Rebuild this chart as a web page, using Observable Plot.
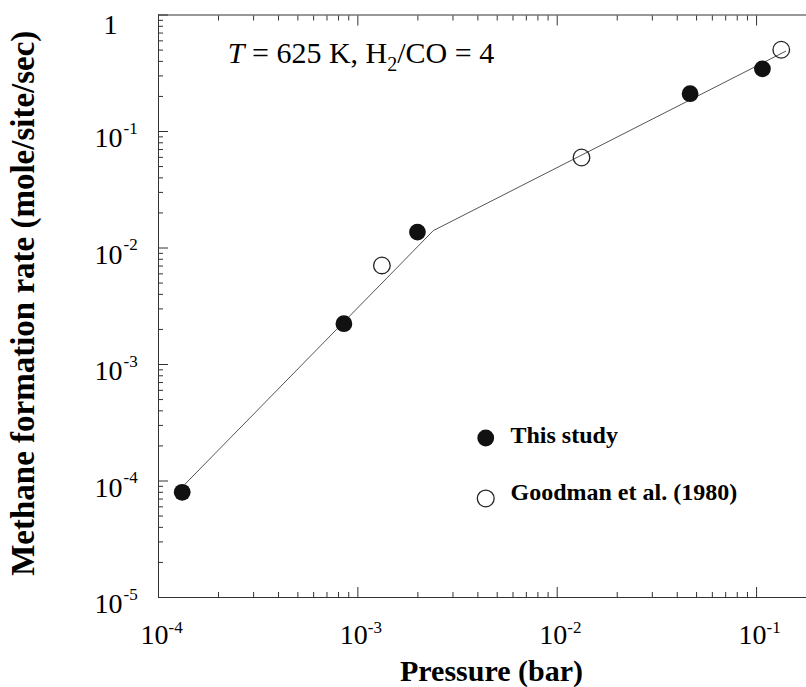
<!DOCTYPE html>
<html>
<head>
<meta charset="utf-8">
<script src="https://cdn.jsdelivr.net/npm/d3@7"></script>
<script src="https://cdn.jsdelivr.net/npm/@observablehq/plot@0.6"></script>
<style>
  html, body { margin: 0; padding: 0; background: #fff; }
  #chart { width: 806px; height: 687px; }
</style>
</head>
<body>
<div id="chart"></div>
<script>
// Methane formation rate versus pressure, T = 625 K, H2/CO = 4

// This study (filled circles)
const studyPressure = [1.315e-4, 8.51e-4, 1.99e-3, 0.0464, 0.107];
const studyRate     = [8.0e-5, 2.24e-3, 1.37e-2, 0.211, 0.345];

// Goodman et al. (1980) (open circles)
const goodmanPressure = [1.32e-3, 0.01324, 0.133];
const goodmanRate     = [7.08e-3, 0.0598, 0.503];

// Two-segment fit line through both data sets
const fitPressure = [1.364e-4, 2.39e-3, 0.140];
const fitRate     = [9.46e-5, 0.0141, 0.489];

// Axis ticks and labels
const xMajorTicks    = [1e-4, 1e-3, 1e-2, 1e-1];
const xTickExponents = ["-4", "-3", "-2", "-1"];
const yMajorTicks    = [1e-5, 1e-4, 1e-3, 1e-2, 1e-1, 1];
const yTickExponents = ["-5", "-4", "-3", "-2", "-1", ""];

const xLabel = "Pressure (bar)";
const yLabel = "Methane formation rate (mole/site/sec)";
const legendLabels = ["This study", "Goodman et al. (1980)"];

// ---- derived tables ----
const study   = studyPressure.map((p, i) => ({p, rate: studyRate[i]}));
const goodman = goodmanPressure.map((p, i) => ({p, rate: goodmanRate[i]}));
const fit     = fitPressure.map((p, i) => ({p, rate: fitRate[i]}));

const xMax = 0.178;
const minorTicks = (majors, max) =>
  majors.flatMap(d => d3.range(2, 10).map(k => k * d)).filter(v => v < max);
const xMinorTicks = minorTicks(xMajorTicks, xMax);
const yMinorTicks = minorTicks(yMajorTicks.slice(0, -1), 1);

const yTicks = yMajorTicks.map((v, i) => ({v, exp: yTickExponents[i]}));
const yPowerTicks = yTicks.filter(d => d.exp !== "");
const yUnitTicks  = yTicks.filter(d => d.exp === "");

// legend placement (data units, inside the plot)
const legendDotP = 4.38e-3, legendTextP = 5.83e-3;
const legendDotRate  = [2.34e-4, 7.08e-5];
const legendTextRate = [2.10e-4, 6.9e-5];
const legend = legendLabels.map((label, i) => ({
  label, filled: i === 0, dotRate: legendDotRate[i], textRate: legendTextRate[i]
}));

const serif = "'Liberation Serif', 'Times New Roman', Times, serif";
const axisColor = "#333";

const plot = Plot.plot({
  width: 806,
  height: 687,
  marginLeft: 158,
  marginRight: 0,
  marginTop: 14.5,
  marginBottom: 90,
  style: {fontFamily: serif, background: "#fff", color: axisColor},
  x: {type: "log", domain: [1e-4, xMax], label: null},
  y: {type: "log", domain: [1e-5, 1], label: null},
  marks: [
    // axis lines (left, bottom, top)
    Plot.ruleX([1e-4], {stroke: axisColor, strokeWidth: 1}),
    Plot.ruleY([1e-5, 1], {stroke: axisColor, strokeWidth: 1}),

    // inward ticks
    Plot.axisX(xMajorTicks, {anchor: "bottom", tickSize: -10, tickFormat: () => "", label: null}),
    Plot.axisX(xMinorTicks, {anchor: "bottom", tickSize: -5, tickFormat: () => "", label: null}),
    Plot.axisX(xMajorTicks, {anchor: "top", tickSize: -10, tickFormat: () => "", label: null}),
    Plot.axisX(xMinorTicks, {anchor: "top", tickSize: -5, tickFormat: () => "", label: null}),
    Plot.axisY(yMajorTicks, {anchor: "left", tickSize: -10, tickFormat: () => "", label: null}),
    Plot.axisY(yMinorTicks, {anchor: "left", tickSize: -5, tickFormat: () => "", label: null}),

    // x tick labels: 10 with superscript exponent
    Plot.text(xMajorTicks, {x: d => d, text: () => "10", frameAnchor: "bottom",
      textAnchor: "end", lineAnchor: "bottom", dx: 10, dy: 46, fontSize: 28, fill: "#000"}),
    Plot.text(xMajorTicks, {x: d => d, text: (d, i) => xTickExponents[i], frameAnchor: "bottom",
      textAnchor: "start", lineAnchor: "bottom", dx: 10, dy: 35, fontSize: 17, fill: "#000"}),

    // y tick labels
    Plot.text(yPowerTicks, {y: "v", text: () => "10", frameAnchor: "left",
      textAnchor: "end", lineAnchor: "bottom", dx: -36, dy: 15.7, fontSize: 28, fill: "#000"}),
    Plot.text(yPowerTicks, {y: "v", text: "exp", frameAnchor: "left",
      textAnchor: "start", lineAnchor: "bottom", dx: -35, dy: 2, fontSize: 17, fill: "#000"}),
    Plot.text(yUnitTicks, {y: "v", text: () => "1", frameAnchor: "left",
      textAnchor: "end", lineAnchor: "bottom", dx: -41, dy: 19, fontSize: 28, fill: "#000"}),

    // axis titles
    Plot.text([xLabel], {text: d => d, frameAnchor: "bottom", textAnchor: "middle", lineAnchor: "bottom",
      dx: 9, dy: 83, fontSize: 30, fontWeight: "bold", fill: "#000"}),
    Plot.text([yLabel], {text: d => d, frameAnchor: "left", textAnchor: "middle", rotate: -90,
      lineAnchor: "bottom", dx: -125, dy: -3, fontSize: 33, fontWeight: "bold", fill: "#000"}),

    // fit line
    Plot.line(fit, {x: "p", y: "rate", stroke: "#555", strokeWidth: 1}),

    // data
    Plot.dot(goodman, {x: "p", y: "rate", r: 8.3, fill: "none", stroke: "#222", strokeWidth: 1.3}),
    Plot.dot(study, {x: "p", y: "rate", r: 8.4, fill: "#111", stroke: "none"}),

    // legend
    Plot.dot(legend, {x: () => legendDotP, y: "dotRate", r: 8.4,
      fill: d => d.filled ? "#111" : "none", stroke: d => d.filled ? "none" : "#222", strokeWidth: 1.3}),
    Plot.text(legend, {x: () => legendTextP, y: "textRate", text: "label", textAnchor: "start",
      lineAnchor: "bottom", fontSize: 24, fontWeight: "bold", fill: "#000"})
  ]
});

// condition annotation: T = 625 K, H2/CO = 4 (italic T, subscript 2)
const annotationP = 2.24e-4, annotationRate = 0.383;
const sx = plot.scale("x"), sy = plot.scale("y");
const note = d3.select(plot).append("text")
  .attr("x", sx.apply(annotationP))
  .attr("y", sy.apply(annotationRate))
  .attr("text-anchor", "start")
  .attr("font-family", serif)
  .attr("font-size", 30)
  .attr("fill", "#000");
note.append("tspan").attr("font-style", "italic").text("T");
note.append("tspan").text(" = 625 K, H");
note.append("tspan").attr("font-size", 20).attr("dy", 8).text("2");
note.append("tspan").attr("dy", -8).text("/CO = 4");

document.getElementById("chart").appendChild(plot);
</script>
</body>
</html>
